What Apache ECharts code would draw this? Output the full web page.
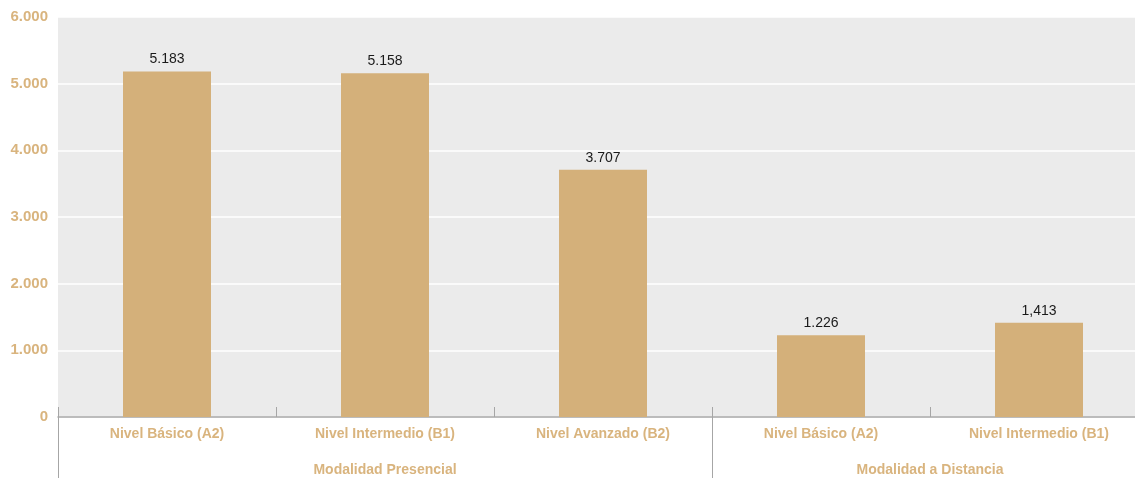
<!DOCTYPE html>
<html>
<head>
<meta charset="utf-8">
<script src="https://cdn.jsdelivr.net/npm/echarts@6/dist/echarts.min.js"></script>
<style>html,body{margin:0;padding:0;background:#fff}#c{width:1135px;height:478px}</style>
</head>
<body>
<div id="c"></div>
<script>
const categories = ["Nivel Básico (A2)", "Nivel Intermedio (B1)", "Nivel Avanzado (B2)", "Nivel Básico (A2)", "Nivel Intermedio (B1)"];
const values = [5183, 5158, 3707, 1226, 1413];
const valueLabels = ["5.183", "5.158", "3.707", "1.226", "1,413"];
const groups = ["Modalidad Presencial", "Modalidad a Distancia"];
const groupCenters = [1.5, 4];
const groupBounds = [0, 3];
const yTicks = [0, 1000, 2000, 3000, 4000, 5000, 6000];
const yTickLabels = ["0", "1.000", "2.000", "3.000", "4.000", "5.000", "6.000"];

const gold = '#d4b07a';
const labelGold = '#d9b47e';
const narrow = '"Liberation Sans Narrow", "Arial Narrow", "Liberation Sans", sans-serif';

const chart = echarts.init(document.getElementById('c'), null, {renderer: 'canvas'});
chart.setOption({
  animation: false,
  grid: {left: 58, top: 17, width: 1090, height: 400, show: true, backgroundColor: '#ebebeb', borderWidth: 0, outerBoundsMode: 'none', containLabel: false},
  xAxis: [{
    type: 'category',
    data: categories,
    boundaryGap: true,
    axisLine: {show: true, lineStyle: {color: '#a6a6a6', width: 1.5}},
    axisTick: {show: true, inside: true, length: 10, lineStyle: {color: '#a6a6a6', width: 1}},
    axisLabel: {color: labelGold, fontFamily: narrow, fontWeight: 'bold', fontSize: 14, margin: 10, interval: 0}
  }, {
    type: 'value',
    min: 0, max: 5,
    position: 'bottom',
    offset: 0,
    gridIndex: 0,
    axisLine: {show: false},
    splitLine: {show: false},
    axisTick: {show: true, inside: false, length: 61, customValues: groupBounds, lineStyle: {color: '#a6a6a6', width: 1}},
    axisLabel: {
      show: true, customValues: groupCenters, margin: 46,
      color: labelGold, fontFamily: narrow, fontWeight: 'bold', fontSize: 14,
      formatter: function (v) { const i = groupCenters.indexOf(v); return i >= 0 ? groups[i] : ''; }
    }
  }],
  yAxis: {
    type: 'value',
    min: 0, max: 6000, interval: 1000,
    axisLine: {show: false},
    axisTick: {show: false},
    splitLine: {show: true, lineStyle: {color: '#ffffff', width: 1.5}},
    axisLabel: {
      color: labelGold, fontFamily: narrow, fontWeight: 'bold', fontSize: 15, margin: 10,
      formatter: function (v) { const i = yTicks.indexOf(v); return i >= 0 ? yTickLabels[i] : ''; }
    }
  },
  series: [{
    type: 'bar',
    xAxisIndex: 0,
    data: values,
    barWidth: 88,
    itemStyle: {color: gold},
    label: {
      show: true, position: 'top', distance: 5,
      color: '#1a1a1a', fontFamily: '"Liberation Sans", Arial, sans-serif', fontSize: 14,
      formatter: function (p) { return valueLabels[p.dataIndex]; }
    }
  }]
});
</script>
</body>
</html>
